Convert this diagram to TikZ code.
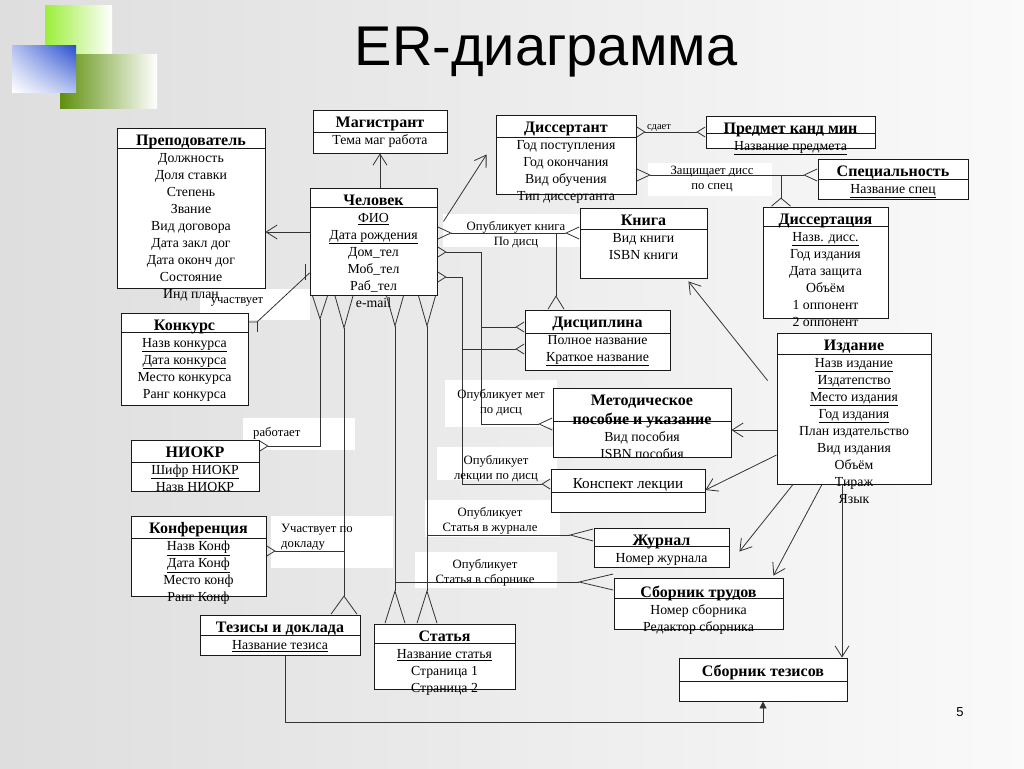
\documentclass[tikz,border=0pt]{standalone}
\usepackage{fontspec}
\setmainfont{Liberation Serif}
\newfontfamily\headfont{Liberation Sans}
\usepackage{tikz}
\usetikzlibrary{arrows.meta, positioning, shadings}

\definecolor{lgreen}{HTML}{9CEE3A}
\definecolor{dgreen}{HTML}{5E900C}
\definecolor{bluesq}{HTML}{2A4FD0}

\newcommand\attrfont{\fontsize{13.8}{17}\selectfont}
\newcommand\lblfont{\fontsize{12.7}{15}\selectfont}
\newcommand\enttitle[1]{{\bfseries\fontsize{16}{17}\selectfont #1}}
\newcommand\pk[1]{\underline{#1}}

\pgfdeclarelayer{back}
\pgfdeclarelayer{wires}
\pgfsetlayers{back,wires,main}

\begin{document}
\begin{tikzpicture}[
    x=1pt, y=-1pt,
    entity/.style={
        rectangle,
        draw=black!90,
        line width=0.9pt,
        fill=white,
        inner sep=0pt,
        path picture={\draw[line width=0.9pt] ([yshift=-#1]path picture bounding box.north west) -- ([yshift=-#1]path picture bounding box.north east);}
    },
    entity/.default=21pt,
    etext/.style={inner sep=0pt, align=center, font=\attrfont, execute at begin node=\strut},
    lbl/.style={inner sep=0pt, align=center, font=\lblfont},
    patch/.style={rectangle, fill=white, draw=none, inner sep=0pt},
    rel/.style={draw=black!80, line width=0.8pt},
    cfs/.tip={Straight Barb[reversed, length=8pt, width=10pt]},
    cfm/.tip={Straight Barb[reversed, length=13pt, width=12pt]},
    cfl/.tip={Straight Barb[reversed, length=30pt, width=17pt]},
    isa/.tip={Straight Barb[length=11pt, width=14pt]}
]
\useasboundingbox (0,0) rectangle (1024,768);

% slide background and logo
\begin{pgfonlayer}{back}
\fill[left color=gray!26, right color=gray!4] (0,0) rectangle (1024,768);
\shade[left color=lgreen, middle color=lgreen, right color=white] (45,6) rectangle (112,56);
\shade[left color=dgreen, middle color=dgreen!80, right color=white] (60,55) rectangle (157,108);
\shade[upper right=bluesq, upper left=bluesq!35, lower right=bluesq!35, lower left=white] (12,46) rectangle (76,92);
\end{pgfonlayer}

\node[font=\headfont\fontsize{56}{60}\selectfont, anchor=base] (title) at (546,65) {ER-диаграмма};
\node[font=\headfont\fontsize{13}{15}\selectfont] (num) at (960,712) {5};

% Entities
\node[entity=20pt, minimum width=148, minimum height=160] (prep) at (191,208) {};
\node[etext, below=7pt of prep.north] (prep-a) {\enttitle{Преподователь}\\Должность\\Доля ставки\\Степень\\Звание\\Вид договора\\Дата закл дог\\Дата оконч дог\\Состояние\\Инд план};

\node[entity=22pt, minimum width=134, minimum height=43] (mag) at (380,131.5) {};
\node[etext, below=7pt of mag.north] (mag-a) {\enttitle{Магистрант}\\Тема маг работа};

\node[entity=19pt, minimum width=127, minimum height=107] (chel) at (373.5,241.5) {};
\node[etext, below=7pt of chel.north] (chel-a) {\enttitle{Человек}\\\pk{ФИО}\\\pk{Дата рождения}\\Дом\_тел\\Моб\_тел\\Раб\_тел\\e-mail};

\node[entity=22pt, minimum width=140, minimum height=79] (dissnt) at (566,154.5) {};
\node[etext, below=7pt of dissnt.north] (dissnt-a) {\enttitle{Диссертант}\\Год поступления\\Год окончания\\Вид обучения\\Тип диссертанта};

\node[entity=17pt, minimum width=169, minimum height=32] (predm) at (790.5,132) {};
\node[etext, below=7pt of predm.north] (predm-a) {\enttitle{Предмет канд мин}\\\pk{Название предмета}};

\node[entity=20pt, minimum width=150, minimum height=40] (spec) at (893,179) {};
\node[etext, below=7pt of spec.north] (spec-a) {\enttitle{Специальность}\\\pk{Название спец}};

\node[entity=21pt, minimum width=127, minimum height=70] (kniga) at (643.5,243) {};
\node[etext, below=7pt of kniga.north] (kniga-a) {\enttitle{Книга}\\Вид книги\\ISBN книги};

\node[entity=19pt, minimum width=125, minimum height=111] (disser) at (825.5,262.5) {};
\node[etext, below=7pt of disser.north] (disser-a) {\enttitle{Диссертация}\\\pk{Назв. дисс.}\\Год издания\\Дата защита\\Объём\\1 оппонент\\2 оппонент};

\node[entity=19pt, minimum width=127, minimum height=92] (konk) at (184.5,359) {};
\node[etext, below=7pt of konk.north] (konk-a) {\enttitle{Конкурс}\\\pk{Назв конкурса}\\\pk{Дата конкурса}\\Место конкурса\\Ранг конкурса};

\node[entity=23pt, minimum width=145, minimum height=60] (disc) at (597.5,340) {};
\node[etext, below=7pt of disc.north] (disc-a) {\enttitle{Дисциплина}\\Полное название\\\pk{Краткое название}};

\node[entity=21pt, minimum width=154, minimum height=151] (izd) at (854,408.5) {};
\node[etext, below=7pt of izd.north] (izd-a) {\enttitle{Издание}\\\pk{Назв издание}\\\pk{Издатепство}\\\pk{Место издания}\\\pk{Год издания}\\План издательство\\Вид издания\\Объём\\Тираж\\Язык};

\node[entity=33pt, minimum width=178, minimum height=69] (metod) at (642,422.5) {};
\node[etext, below=7pt of metod.north] (metod-a) {\enttitle{Методическое}\\[2pt]\enttitle{пособие и указание}\\Вид пособия\\ISBN пособия};

\node[entity=23pt, minimum width=154, minimum height=43] (konsp) at (628,490.5) {};
\node[etext, below=8pt of konsp.north] (konsp-a) {{\fontsize{15.2}{17}\selectfont Конспект лекции}};

\node[entity=22pt, minimum width=128, minimum height=51] (niokr) at (195,465.5) {};
\node[etext, below=7pt of niokr.north] (niokr-a) {\enttitle{НИОКР}\\\pk{Шифр НИОКР}\\Назв НИОКР};

\node[entity=22pt, minimum width=135, minimum height=80] (konf) at (198.5,556) {};
\node[etext, below=7pt of konf.north] (konf-a) {\enttitle{Конференция}\\\pk{Назв Конф}\\\pk{Дата Конф}\\Место конф\\Ранг Конф};

\node[entity=18pt, minimum width=135, minimum height=39] (zhurn) at (661.5,547.5) {};
\node[etext, below=7pt of zhurn.north] (zhurn-a) {\enttitle{Журнал}\\Номер журнала};

\node[entity=20pt, minimum width=169, minimum height=51] (sbtr) at (698.5,603.5) {};
\node[etext, below=8pt of sbtr.north] (sbtr-a) {\enttitle{Сборник трудов}\\Номер сборника\\Редактор сборника};

\node[entity=20pt, minimum width=160, minimum height=40] (tez) at (280,635) {};
\node[etext, below=7pt of tez.north] (tez-a) {\enttitle{Тезисы и доклада}\\\pk{Название тезиса}};

\node[entity=19pt, minimum width=141, minimum height=65] (stat) at (444.5,656.5) {};
\node[etext, below=7pt of stat.north] (stat-a) {\enttitle{Статья}\\\pk{Название статья}\\Страница 1\\Страница 2};

\node[entity=23pt, minimum width=168, minimum height=43] (sbtez) at (763,679.5) {};
\node[etext, below=7pt of sbtez.north] (sbtez-a) {\enttitle{Сборник тезисов}};

% Relationship labels
\node[lbl] (l-sdaet) at (659,128) {\fontsize{10.5}{12}\selectfont сдает};
\node[lbl] (l-zasch) at (712,179.5) {Защищает дисс\\по спец};
\node[lbl] (l-kniga) at (516,235) {Опубликует книга\\По дисц};
\node[lbl] (l-uch) at (237,302) {участвует};
\node[lbl, anchor=west] (l-rab) at (253,433) {работает};
\node[lbl, anchor=west, align=left] (l-dokl) at (281,537.5) {Участвует по\\докладу};
\node[lbl] (l-met) at (501,403) {Опубликует мет\\по дисц};
\node[lbl] (l-lek) at (496,469) {Опубликует\\лекции по дисц};
\node[lbl] (l-zhur) at (490,521) {Опубликует\\Статья в журнале};
\node[lbl] (l-sbor) at (485,572.5) {Опубликует\\Статья в сборнике};

\begin{pgfonlayer}{wires}
% white patches behind the labels
\node[patch, minimum width=110, minimum height=31] (pa-uch) at (255,304.5) {};
\node[patch, minimum width=112, minimum height=32] (pa-rab) at (299,434) {};
\node[patch, minimum width=122, minimum height=52] (pa-dok) at (332,542) {};
\node[patch, minimum width=137, minimum height=33] (pa-kn) at (511.5,230.5) {};
\node[patch, minimum width=124, minimum height=33] (pa-zas) at (710,179.5) {};
\node[patch, minimum width=112, minimum height=47] (pa-met) at (501,403.5) {};
\node[patch, minimum width=120, minimum height=33] (pa-lek) at (497,463.5) {};
\node[patch, minimum width=135, minimum height=37] (pa-zh) at (492.5,518.5) {};
\node[patch, minimum width=142, minimum height=36] (pa-sb) at (486,570) {};

% Subtypes of Человек
\draw[rel, -isa] (mag.south |- chel.north) -- (mag.south);
\draw[rel, -isa] (chel.west |- 0,232) -- (prep.east |- 0,232);
\draw[rel, -isa] ([xshift=6pt,yshift=20pt]chel.east) -- ([xshift=-9pt]dissnt.west);

% Человек -- Книга -- Дисциплина
\draw[rel, cfm-cfm] (chel.east |- 0,233) -- (kniga.west |- 0,233);
\coordinate (j-kn) at (556,233);
\draw[rel, -{Straight Barb[reversed, length=13pt, width=16pt]}] (j-kn) -- (disc.north -| j-kn);

% Человек -- Дисциплина -- Методическое / Конспект
\draw[rel, cfs-cfm] (chel.east |- 0,252) -| (481,424) -- (metod.west |- 0,424);
\coordinate (j-dm) at (481,327);
\draw[rel, -cfs] (j-dm) -- (disc.west |- j-dm);
\draw[rel, cfs-cfs] (chel.east |- 0,277) -| (462,484) -- (konsp.west |- 0,484);
\coordinate (j-dl) at (462,349);
\draw[rel, -cfs] (j-dl) -- (disc.west |- j-dl);

% Диссертант
\draw[rel, cfs-cfs] (dissnt.east |- 0,132) -- (predm.west |- 0,132);
\draw[rel, cfm-cfm] (dissnt.east |- 0,175) -- (spec.west |- 0,175);
\coordinate (j-sd) at (781,175);
\draw[rel, -{Straight Barb[reversed, length=8pt, width=19pt]}] (j-sd) -- (disser.north -| j-sd);

% Человек bottom
\draw[rel, {Straight Barb[reversed, length=23pt, width=15pt]}-cfs] (chel.south -| 320,0) |- (niokr.east |- 0,446);
\draw[rel, {Straight Barb[reversed, length=32pt, width=18pt]}-{Straight Barb[reversed, length=18pt, width=26pt]}] (chel.south -| 344,0) -- (tez.north -| 344,0);
\coordinate (j-kf) at (344,551);
\draw[rel, -cfs] (j-kf) -- (konf.east |- j-kf);
\draw[rel, cfl-{Straight Barb[reversed, length=32pt, width=20pt]}] (chel.south -| 395,0) -- (stat.north -| 395,0);
\coordinate (j-sb) at (395,582);
\draw[rel, -{Straight Barb[reversed, length=34pt, width=16pt]}] (j-sb) -- (sbtr.west |- j-sb);
\draw[rel, cfl-{Straight Barb[reversed, length=32pt, width=20pt]}] (chel.south -| 427,0) -- (stat.north -| 427,0);
\coordinate (j-zh) at (427,535);
\draw[rel, -{Straight Barb[reversed, length=23pt, width=12pt]}] (j-zh) -- (zhurn.west |- j-zh);

% Конкурс -- Человек
\coordinate (k-one) at (257,322);
\coordinate (c-one) at (305,273);
\draw[rel] (konk.east |- k-one) -- (k-one) -- (chel.west |- c-one);
\draw[rel] (k-one) -- ++(0,10);
\draw[rel] (c-one) ++(0,-9) -- ++(0,16);

% Тезисы -> Сборник тезисов
\draw[rel, -{Triangle[length=7pt, width=7pt]}] (tez.south -| 285,0) -- (285,722) -| (sbtez.south);

% Издание
\draw[rel, -isa] ([xshift=-9pt,yshift=28pt]izd.west) -- ([xshift=-19pt,yshift=-3pt]kniga.south east);
\draw[rel, -isa] (izd.west |- 0,430) -- (metod.east |- 0,430);
\draw[rel, -isa] (izd.west |- 0,455) -- (konsp.east |- 0,490);
\draw[rel, -isa] (izd.south -| 793,0) -- ([xshift=10pt,yshift=-4pt]zhurn.east);
\draw[rel, -isa] (izd.south -| 822,0) -- ([xshift=-10pt,yshift=2pt]sbtr.north east);
\draw[rel, -isa] (izd.south -| 842,0) -- (sbtez.north -| 842,0);
\end{pgfonlayer}

\end{tikzpicture}
\end{document}
